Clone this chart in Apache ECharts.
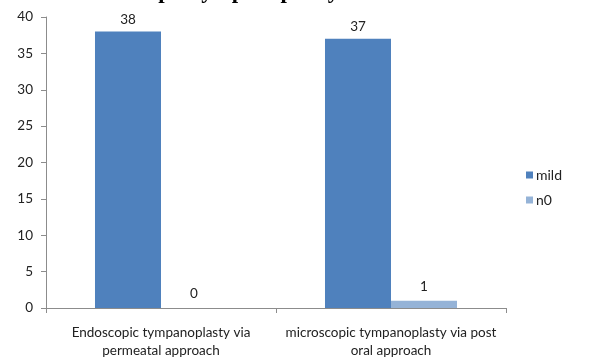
<!DOCTYPE html>
<html>
<head>
<meta charset="utf-8">
<script src="https://cdn.jsdelivr.net/npm/echarts@6/dist/echarts.min.js"></script>
<style>
  html, body { margin: 0; padding: 0; background: #fff; }
  #chart { width: 602px; height: 360px; }
</style>
</head>
<body>
<div id="chart"></div>
<script>
// Approach groups on the category axis
const categories = [
  'Endoscopic tympanoplasty via\npermeatal approach',
  'microscopic tympanoplasty via post\noral approach'
];
// Patient counts per pain grade
const mild = [38, 37];
const n0 = [0, 1];
const seriesNames = ['mild', 'n0'];
const yTicks = { min: 0, max: 40, interval: 5 };

const labelFont = { fontFamily: 'Lato, "Open Sans", sans-serif', fontSize: 13.5, color: '#222' };

const chart = echarts.init(document.getElementById('chart'), null, { renderer: 'canvas' });
chart.setOption({
  animation: false,
  backgroundColor: '#ffffff',
  title: {
    text: 'Pain in endoscopic tympanoplasty',
    left: 5,
    top: -19,
    padding: 0,
    textStyle: { fontFamily: '"Liberation Serif", serif', fontWeight: 'bold', fontSize: 23, color: '#000' }
  },
  legend: {
    data: seriesNames,
    orient: 'vertical',
    left: 526,
    top: 168,
    padding: 0,
    itemWidth: 7,
    itemHeight: 7,
    itemGap: 11,
    icon: 'rect',
    textStyle: Object.assign({}, labelFont, { fontSize: 14, lineHeight: 14, padding: [0, 0, 0, -2] })
  },
  grid: { left: 46, right: 96, top: 17, bottom: 49, containLabel: false },
  xAxis: {
    type: 'category',
    data: categories,
    axisLine: { lineStyle: { color: '#8c8c8c', width: 1 } },
    axisTick: { show: true, alignWithLabel: false, length: 5, lineStyle: { color: '#8c8c8c' } },
    axisLabel: Object.assign({}, labelFont, { margin: 16, lineHeight: 18, interval: 0 })
  },
  yAxis: {
    type: 'value',
    min: yTicks.min,
    max: yTicks.max,
    interval: yTicks.interval,
    axisLine: { show: true, lineStyle: { color: '#8c8c8c', width: 1 } },
    axisTick: { show: true, length: 5, lineStyle: { color: '#8c8c8c' } },
    splitLine: { show: false },
    axisLabel: Object.assign({}, labelFont, { margin: 13 })
  },
  series: [
    {
      name: seriesNames[0],
      type: 'bar',
      data: mild,
      barGap: '0%',
      barCategoryGap: '42.6%',
      itemStyle: { color: '#4f81bd' },
      label: Object.assign({ show: true, position: 'top', distance: 5 }, labelFont)
    },
    {
      name: seriesNames[1],
      type: 'bar',
      data: n0,
      barGap: '0%',
      barCategoryGap: '42.6%',
      itemStyle: { color: '#95b3d7' },
      label: Object.assign({ show: true, position: 'top', distance: 7 }, labelFont)
    }
  ]
});
</script>
</body>
</html>
